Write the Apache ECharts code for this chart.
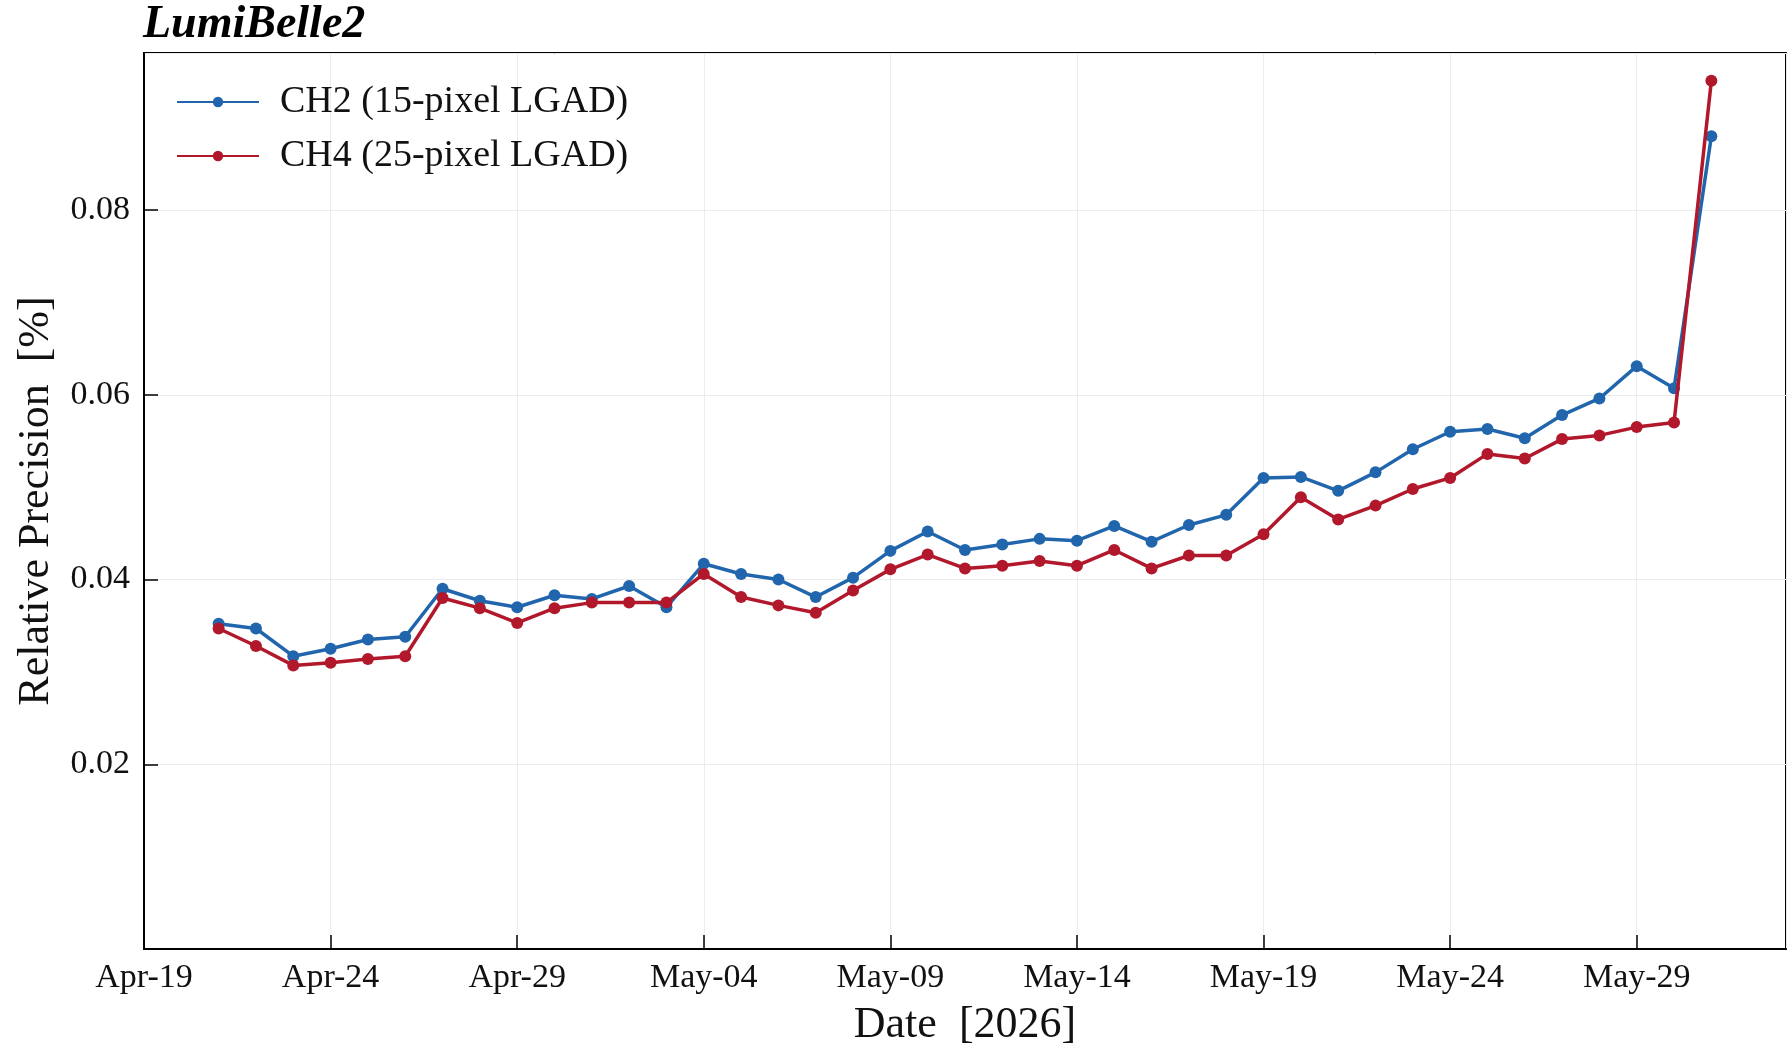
<!DOCTYPE html>
<html><head><meta charset="utf-8">
<script src="https://cdn.jsdelivr.net/npm/echarts@6/dist/echarts.min.js"></script>
<style>html,body{margin:0;padding:0;background:#fff}#c{width:1792px;height:1046px}</style>
</head><body><div id="c"></div>
<script>
const dates = ['2026-04-21','2026-04-22','2026-04-23','2026-04-24','2026-04-25','2026-04-26','2026-04-27','2026-04-28','2026-04-29','2026-04-30',
'2026-05-01','2026-05-02','2026-05-03','2026-05-04','2026-05-05','2026-05-06','2026-05-07','2026-05-08','2026-05-09','2026-05-10',
'2026-05-11','2026-05-12','2026-05-13','2026-05-14','2026-05-15','2026-05-16','2026-05-17','2026-05-18','2026-05-19','2026-05-20',
'2026-05-21','2026-05-22','2026-05-23','2026-05-24','2026-05-25','2026-05-26','2026-05-27','2026-05-28','2026-05-29','2026-05-30','2026-05-31'];
const ch2 = [0.0352,0.0347,0.0317,0.0325,0.0335,0.0338,0.0390,0.0377,0.0370,0.0383,
0.0379,0.0393,0.0370,0.0417,0.0406,0.0400,0.0381,0.0402,0.0431,0.0452,
0.0432,0.0438,0.0444,0.0442,0.0458,0.0441,0.0459,0.0470,0.0510,0.0511,
0.0496,0.0516,0.0541,0.0560,0.0563,0.0553,0.0578,0.0596,0.0631,0.0607,0.0880];
const ch4 = [0.0347,0.0328,0.0307,0.0310,0.0314,0.0317,0.0380,0.0369,0.0353,0.0369,
0.0375,0.0375,0.0375,0.0406,0.0381,0.0372,0.0364,0.0388,0.0411,0.0427,
0.0412,0.0415,0.0420,0.0415,0.0432,0.0412,0.0426,0.0426,0.0449,0.0489,
0.0465,0.0480,0.0498,0.0510,0.0536,0.0531,0.0552,0.0556,0.0565,0.0570,0.0940];
const seriesNames = ['CH2 (15-pixel LGAD)','CH4 (25-pixel LGAD)'];
const xStart = '2026-04-19', xEnd = '2026-06-02';
const yTicks = [0.02,0.04,0.06,0.08];

const DAY = 86400000;
const t0 = Date.parse(xStart + 'T00:00:00Z');
const toDay = d => (Date.parse(d + 'T00:00:00Z') - t0) / DAY;
const months = ['Jan','Feb','Mar','Apr','May','Jun','Jul','Aug','Sep','Oct','Nov','Dec'];
const fmtDay = v => { const d = new Date(t0 + v * DAY); return months[d.getUTCMonth()] + '-' + String(d.getUTCDate()).padStart(2,'0'); };
const F = '"Liberation Serif","DejaVu Serif",serif';
const blue = '#2166ac', red = '#b2182b';

const chart = echarts.init(document.getElementById('c'), null, {renderer:'canvas'});
chart.setOption({
  backgroundColor:'#fff',
  animation:false,
  title:{text:'LumiBelle2', left:143, top:2, padding:0, textStyle:{fontFamily:F, fontStyle:'italic', fontWeight:'bold', fontSize:46, color:'#000'}},
  legend:{left:176, top:83, padding:0, orient:'vertical', itemWidth:82, itemHeight:13, itemGap:16,
    textStyle:{fontFamily:F, fontSize:38, color:'#111', padding:[0,0,0,16]}, data:seriesNames},
  grid:{left:144, right:6, top:53, bottom:97, show:true, borderColor:'#000', borderWidth:2, containLabel:false, outerBoundsMode:'none'},
  xAxis:{type:'value', min:toDay(xStart), max:toDay(xEnd), interval:5,
    name:'Date  [2026]', nameLocation:'middle', nameGap:54,
    nameTextStyle:{fontFamily:F, fontSize:44, color:'#111'},
    axisLine:{show:true, lineStyle:{color:'#000', width:2}},
    axisTick:{show:true, inside:true, length:14, lineStyle:{color:'#000', width:1.5}},
    axisLabel:{fontFamily:F, fontSize:34, color:'#111', margin:12, showMaxLabel:false, formatter:fmtDay},
    splitLine:{show:true, lineStyle:{color:'#ececec', width:1}}},
  yAxis:{type:'value', min:0, max:0.097, interval:0.02,
    name:'Relative Precision  [%]', nameLocation:'middle', nameGap:86,
    nameTextStyle:{fontFamily:F, fontSize:44, color:'#111'},
    axisLine:{show:true, lineStyle:{color:'#000', width:2}},
    axisTick:{show:true, inside:true, length:14, lineStyle:{color:'#000', width:1.5}},
    axisLabel:{fontFamily:F, fontSize:34, color:'#111', margin:14, showMaxLabel:false, showMinLabel:false,
      formatter:v => yTicks.some(t => Math.abs(t - v) < 1e-9) ? v.toFixed(2) : ''},
    splitLine:{show:true, lineStyle:{color:'#ececec', width:1}}},
  series:[
    {name:seriesNames[0], type:'line', data:dates.map((d,i)=>[toDay(d), ch2[i]]),
     symbol:'circle', symbolSize:12, itemStyle:{color:blue}, lineStyle:{color:blue, width:3.5}, z:2},
    {name:seriesNames[1], type:'line', data:dates.map((d,i)=>[toDay(d), ch4[i]]),
     symbol:'circle', symbolSize:12, itemStyle:{color:red}, lineStyle:{color:red, width:3.5}, z:3}
  ]
});
</script></body></html>
